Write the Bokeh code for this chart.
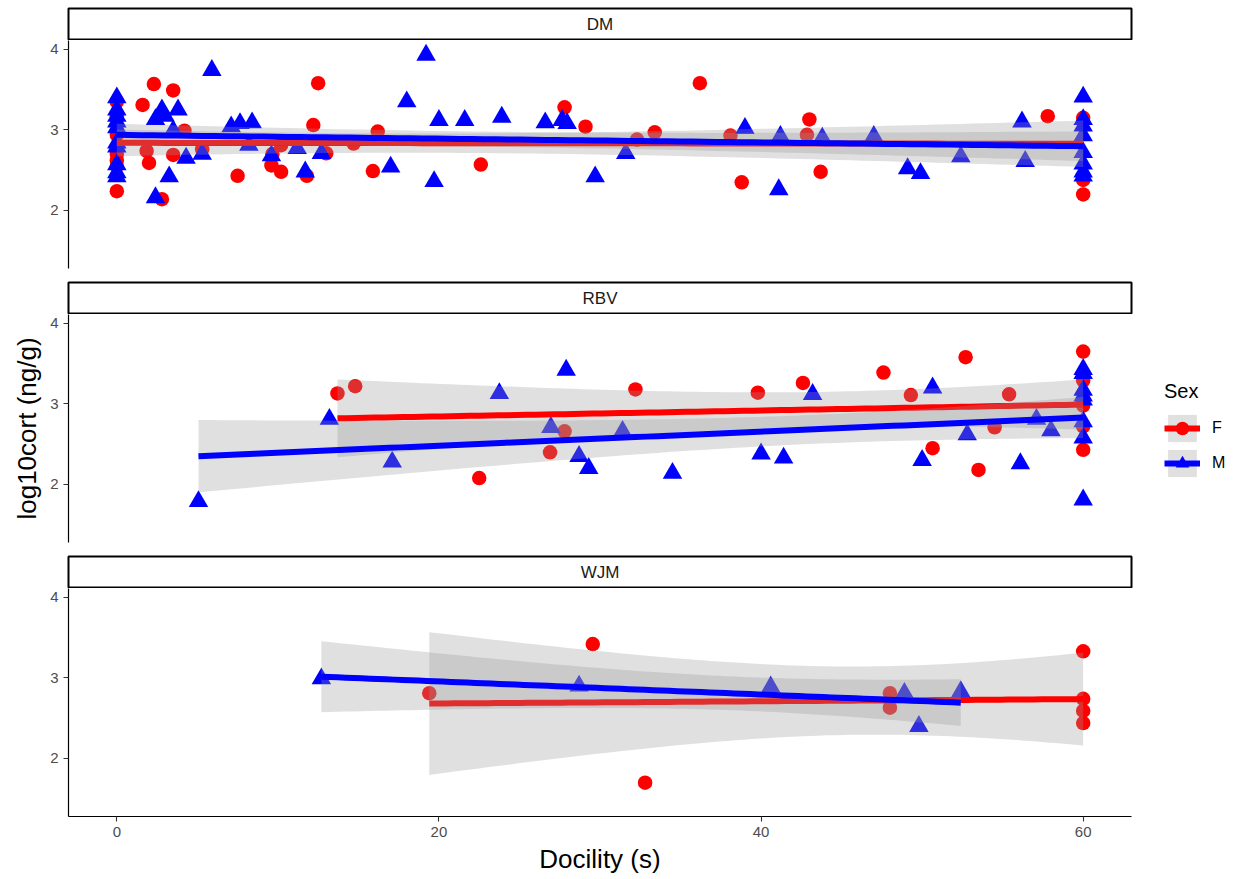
import numpy as np
from bokeh.plotting import figure
from bokeh.layouts import column, row
from bokeh.models import Range1d, FixedTicker, Label, Legend, LegendItem
from bokeh.embed import file_html
from bokeh.resources import INLINE

# ---------------- data ----------------
sites = ["DM", "RBV", "WJM"]

dm_f_x = [0, 0, 0, 0, 0, 0, 0, 1.6, 2.3, 3.5, 1.85, 2.0, 2.8, 3.5, 4.2, 5.3, 7.5,
          9.66, 9.6, 10.2, 10.2, 11.8, 12.2, 12.5, 13.0, 14.7, 15.9, 16.2,
          22.6, 27.8, 29.1, 32.3, 33.4, 36.2, 38.1, 38.8, 42.85, 43.0, 43.7, 57.8, 60, 60, 60]
dm_f_y = [3.35, 3.17, 2.94, 2.70, 2.62, 2.55, 2.24, 3.31, 3.57, 3.49, 2.74, 2.59, 2.14, 2.69, 2.99, 2.76, 2.43,
          2.70, 2.56, 2.48, 2.81, 2.43, 3.06, 3.58, 2.71, 2.83, 2.49, 2.98,
          2.57, 3.28, 3.04, 2.88, 2.97, 3.58, 2.93, 2.35, 2.94, 3.13, 2.48, 3.17, 3.15, 2.38, 2.20]

dm_m_x = [0, 0, 0, 0, 0, 0, 0, 0, 0, 0,
          2.4, 2.8, 3.0, 3.8, 3.5, 4.3, 3.25, 2.4, 5.3, 5.9,
          7.1, 7.65, 8.4, 8.2, 9.6, 11.2, 11.7, 12.7, 17.0, 18.0,
          19.2, 19.7, 20.0, 21.6, 23.9, 26.6, 27.65, 27.96, 29.7, 31.6,
          39.0, 41.1, 41.2, 43.8, 47.0, 49.1, 49.9, 52.4, 56.2, 56.4,
          60, 60, 60, 60, 60, 60, 60, 60]
dm_m_y = [3.40, 3.25, 3.17, 3.10, 3.03, 2.84, 2.79, 2.57, 2.47, 2.42,
          3.13, 3.25, 3.17, 3.25, 2.99, 2.65, 2.42, 2.16, 2.70, 3.74,
          3.04, 3.08, 3.09, 2.81, 2.68, 2.77, 2.48, 2.71, 2.54, 3.35,
          3.93, 2.36, 3.12, 3.12, 3.16, 3.09, 3.12, 3.08, 2.42, 2.71,
          3.02, 2.26, 2.92, 2.90, 2.92, 2.52, 2.46, 2.67, 3.10, 2.61,
          3.41, 3.13, 3.05, 2.93, 2.72, 2.58, 2.48, 2.43]

rbv_f_x = [13.7, 14.8, 22.5, 27.8, 26.9, 32.2, 39.8, 42.6, 47.6, 49.3, 50.65, 52.7, 53.5, 54.5, 55.4,
           60, 60, 60, 60, 60]
rbv_f_y = [3.13, 3.22, 2.08, 2.66, 2.40, 3.18, 3.14, 3.26, 3.39, 3.11, 2.45, 3.58, 2.18, 2.71, 3.12,
           3.65, 3.29, 2.98, 2.72, 2.43]

rbv_m_x = [5.07, 13.2, 17.1, 23.75, 26.95, 27.9, 28.7, 29.3, 31.4, 34.5, 40.0, 41.4, 43.2, 50.0, 50.65,
           52.8, 56.1, 57.1, 58.0, 60, 60, 60, 60, 60, 60, 60, 60]
rbv_m_y = [1.79, 2.81, 2.28, 3.13, 2.71, 3.42, 2.35, 2.20, 2.66, 2.14, 2.38, 2.33, 3.12, 2.30, 3.20,
           2.62, 2.26, 2.81, 2.67, 3.43, 3.38, 3.17, 3.10, 3.05, 2.78, 2.58, 1.81]

wjm_f_x = [19.4, 29.55, 32.8, 48.0, 48.0, 60, 60, 60, 60]
wjm_f_y = [2.81, 3.42, 1.70, 2.81, 2.63, 3.33, 2.74, 2.59, 2.44]

wjm_m_x = [12.7, 28.7, 40.6, 48.9, 49.8, 52.4]
wjm_m_y = [2.99, 2.90, 2.89, 2.81, 2.40, 2.83]

data = {
    "DM": ((dm_f_x, dm_f_y), (dm_m_x, dm_m_y)),
    "RBV": ((rbv_f_x, rbv_f_y), (rbv_m_x, rbv_m_y)),
    "WJM": ((wjm_f_x, wjm_f_y), (wjm_m_x, wjm_m_y)),
}

y_ticks = [2, 3, 4]
x_ticks = [0, 20, 40, 60]
sex_labels = ["F", "M"]

# ---------------- style ----------------
FONT = "Liberation Sans"
LB = 68
FRAME_W = 1063
RB = 2
W = LB + FRAME_W + RB
FRAME_H = 228
GAP = 13
BOTTOM = 62
RED = "#FF0000"
BLUE = "#0000FF"
BAND = "#999999"
BAND_ALPHA = 0.3


def t975(df):
    z = 1.959963985
    g1 = (z**3 + z) / 4
    g2 = (5 * z**5 + 16 * z**3 + 3 * z) / 96
    g3 = (3 * z**7 + 19 * z**5 + 17 * z**3 - 15 * z) / 384
    g4 = (79 * z**9 + 776 * z**7 + 1482 * z**5 - 1920 * z**3 - 945 * z) / 92160
    return z + g1 / df + g2 / df**2 + g3 / df**3 + g4 / df**4


def lm_band(x, y, n=80):
    x = np.asarray(x, float)
    y = np.asarray(y, float)
    nobs = len(x)
    xm = x.mean()
    sxx = ((x - xm) ** 2).sum()
    b = ((x - xm) * (y - y.mean())).sum() / sxx
    a = y.mean() - b * xm
    res = y - (a + b * x)
    s = np.sqrt((res ** 2).sum() / (nobs - 2))
    xs = np.linspace(x.min(), x.max(), n)
    fit = a + b * xs
    se = s * np.sqrt(1.0 / nobs + (xs - xm) ** 2 / sxx)
    t = t975(nobs - 2)
    return xs, fit, fit - t * se, fit + t * se


def strip(name, top):
    s = figure(width=W, height=32 + top, x_range=Range1d(0, 1), y_range=Range1d(0, 1),
               x_axis_type=None, y_axis_type=None, toolbar_location=None,
               output_backend="svg", min_border_left=LB, min_border_right=RB,
               min_border_top=top, min_border_bottom=0)
    s.grid.visible = False
    s.outline_line_color = "black"
    s.outline_line_width = 2
    s.add_layout(Label(x=0.5, y=0.5, text=name, text_align="center", text_baseline="middle",
                       text_font=FONT, text_font_size="17px", text_color="#1A1A1A"))
    return s


def style_axis(ax):
    ax.major_label_text_font = FONT
    ax.major_label_text_font_size = "15px"
    ax.major_label_text_color = "#4D4D4D"
    ax.major_tick_out = 5
    ax.major_tick_in = 0
    ax.minor_tick_out = 0
    ax.minor_tick_in = 0
    ax.axis_line_color = "black"
    ax.axis_line_width = 1.2
    ax.major_tick_line_color = "#333333"
    ax.major_tick_line_width = 1.1
    ax.major_label_standoff = 5
    ax.axis_label_text_font = FONT
    ax.axis_label_text_font_size = "26px"
    ax.axis_label_text_font_style = "normal"
    ax.axis_label_text_color = "black"


blocks = []
for i, site in enumerate(sites):
    last = i == len(sites) - 1
    bottom = BOTTOM if last else GAP
    p = figure(width=W, height=FRAME_H + bottom, x_range=Range1d(-3, 63), y_range=Range1d(1.28, 4.11),
               x_axis_type="linear" if last else None, toolbar_location=None, output_backend="svg",
               min_border_left=LB, min_border_right=RB, min_border_top=0, min_border_bottom=bottom)
    p.grid.visible = False
    p.outline_line_color = None
    p.yaxis.ticker = FixedTicker(ticks=y_ticks)
    style_axis(p.yaxis[0])
    p.yaxis.axis_label_standoff = 5
    if last:
        p.xaxis.ticker = FixedTicker(ticks=x_ticks)
        style_axis(p.xaxis[0])
        p.xaxis.axis_label = "Docility (s)"
        p.xaxis.axis_label_standoff = 4
    if i == 1:
        p.yaxis.axis_label = "log10cort (ng/g)"

    (fx, fy), (mx, my) = data[site]
    p.scatter(fx, fy, marker="circle", size=14.5, fill_color=RED, line_color=None)
    p.scatter(mx, my, marker="triangle", size=19.5, fill_color=BLUE, line_color=None)

    for (gx, gy), col in (((fx, fy), RED), ((mx, my), BLUE)):
        xs, fit, lo, hi = lm_band(gx, gy)
        p.varea(x=xs, y1=lo, y2=hi, fill_color=BAND, fill_alpha=BAND_ALPHA)
        p.line(xs, fit, line_color=col, line_width=6)

    blocks.append(strip(site, 8 if i == 0 else 1))
    blocks.append(p)

panels = column(*blocks, spacing=0)
total_h = sum(b.height for b in blocks)

# ---------------- legend (separate key panel to the right) ----------------
lg = figure(width=100, height=total_h, x_range=Range1d(0, 1), y_range=Range1d(0, 1),
            x_axis_type=None, y_axis_type=None, toolbar_location=None, output_backend="svg",
            min_border_left=0, min_border_right=0, min_border_top=0, min_border_bottom=0)
lg.grid.visible = False
lg.outline_line_color = None
nan = [float("nan")]
items = []
for lab, col, mk, sz in ((sex_labels[0], RED, "circle", 14.5), (sex_labels[1], BLUE, "triangle", 19.5)):
    # key-only renderers: a single NaN row so nothing is drawn in the plot area
    kb = lg.varea(x=nan, y1=nan, y2=nan, fill_color=BAND, fill_alpha=BAND_ALPHA)
    kl = lg.line(x=nan, y=nan, line_color=col, line_width=6)
    ks = lg.scatter(x=nan, y=nan, marker=mk, size=sz, fill_color=col, line_color=None)
    items.append(LegendItem(label=lab, renderers=[kb, kl, ks]))

legend = Legend(items=items, location=(31, total_h - 480), title="Sex")
legend.title_text_font = FONT
legend.title_text_font_size = "20px"
legend.title_text_font_style = "normal"
legend.title_text_color = "black"
legend.title_standoff = 8
legend.label_text_font = FONT
legend.label_text_font_size = "16px"
legend.label_text_color = "black"
legend.glyph_width = 36
legend.glyph_height = 34
legend.spacing = 1
legend.padding = 8
legend.margin = 0
legend.label_standoff = 12
legend.border_line_color = None
legend.background_fill_alpha = 0
lg.add_layout(legend)

layout = row(panels, lg, spacing=0)
open("out.html", "w").write(file_html(layout, INLINE))
